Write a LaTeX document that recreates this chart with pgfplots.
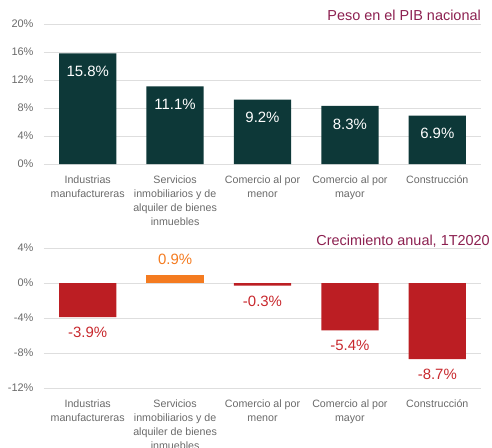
\documentclass[border=0pt]{standalone}
\usepackage{pgfplots}
\pgfplotsset{compat=1.18}
\usepackage{fontspec}
\setmainfont{Liberation Sans}
\definecolor{teal1}{HTML}{0D3838}
\definecolor{red1}{HTML}{BC1E23}
\definecolor{redlab}{HTML}{C8282D}
\definecolor{orange1}{HTML}{F47B20}
\definecolor{titlec}{HTML}{8C2050}
\definecolor{tickc}{HTML}{6A6A6A}
\pgfplotsset{/pgf/number format/assume math mode=true,
  common/.style={
    scale only axis, width=437bp, height=140bp,
    xmin=-0.5, xmax=4.5,
    ybar, bar width=0.655, bar shift=0pt,
    axis line style={draw=none},
    major tick length=0pt,
    ymajorgrids, major grid style={color=black!13, line width=0.8pt},
    xtick={0,1,2,3,4},
    xticklabels={Industrias\\manufactureras, Servicios\\inmobiliarios y de\\alquiler de bienes\\inmuebles, Comercio al por\\menor, Comercio al por\\mayor, Construcción},
    xticklabel style={align=center, font=\fontsize{10.7}{14}\selectfont, color=tickc, yshift=-8bp},
    yticklabel style={font=\fontsize{11}{12}\selectfont, color=tickc, xshift=-7bp},
    yticklabel={\pgfmathprintnumber{\tick}\%},
    extra y ticks={0}, extra y tick labels={},
    extra y tick style={grid style={color=black!40, line width=0.8pt}},
    nodes near coords={\pgfmathprintnumber[fixed,precision=1,fixed zerofill]{\pgfplotspointmeta}\%},
    every node near coord/.append style={font=\fontsize{15}{18}\selectfont},
  }
}
\begin{document}
\begin{tikzpicture}
\path[use as bounding box] (0,0) rectangle (492bp,-448bp);
\begin{axis}[common, at={(44bp,-164bp)}, anchor=south west,
  ymin=0, ymax=20, ytick={0,4,8,12,16,20},
  every node near coord/.append style={color=white, anchor=center, yshift=-18bp},
]
\addplot[fill=teal1, draw=none] coordinates {(0,15.8) (1,11.1) (2,9.2) (3,8.3) (4,6.9)};
\end{axis}
\node[anchor=base east, text=titlec, font=\fontsize{14.5}{17}\selectfont, inner sep=0pt] at (481bp,-20bp) {Peso en el PIB nacional};
\begin{axis}[common, at={(44bp,-388bp)}, anchor=south west,
  ymin=-12, ymax=4, ytick={-12,-8,-4,0,4},
  every node near coord/.append style={inner ysep=10bp},
]
\addplot[fill=red1, draw=none, every node near coord/.append style={color=redlab}] coordinates {(0,-3.9) (2,-0.3) (3,-5.4) (4,-8.7)};
\addplot[fill=orange1, draw=none, every node near coord/.append style={color=orange1}] coordinates {(1,0.9)};
\end{axis}
\node[anchor=base east, text=titlec, font=\fontsize{14.5}{17}\selectfont, inner sep=0pt] at (490bp,-245bp) {Crecimiento anual, 1T2020};
\end{tikzpicture}
\end{document}
